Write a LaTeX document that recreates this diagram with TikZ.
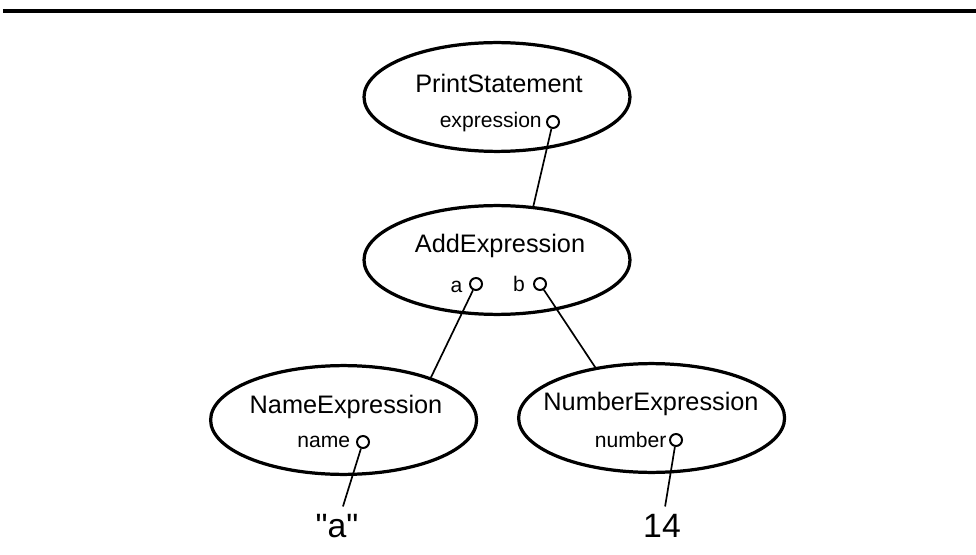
\documentclass[tikz,border=0pt]{standalone}
\usepackage{fontspec}
\setmainfont{Liberation Sans}
\newfontfamily\valfont{Liberation Sans}
\usetikzlibrary{positioning,shapes.geometric}

\begin{document}
\begin{tikzpicture}[
  cls/.style={
    draw,
    ellipse,
    line width=2.3pt,
    inner sep=0pt,
    minimum width=6.65cm,
    minimum height=2.72cm
  },
  title/.style={font=\fontsize{18}{20}\selectfont, inner sep=0pt, anchor=base},
  field/.style={font=\fontsize{15}{17}\selectfont, inner sep=0pt},
  port/.style={draw, circle, line width=1.4pt, inner sep=0pt, minimum size=0.3cm},
  value/.style={font=\valfont\fontsize{24}{26}\selectfont, inner sep=5pt, anchor=base},
  link/.style={line width=1.2pt}
]
\useasboundingbox (0,0) rectangle (24.4,13.85);

% rule along the top
\draw[line width=2.2pt] (0.075,13.575) -- (24.4,13.575);

% one ellipse per tree node
\node[cls] (print) at (12.425, 11.425) {};
\node[cls] (add)   at (12.425, 7.35) {};
\node[cls] (name)  at (8.59, 3.35) {};
\node[cls] (num)   at (16.29, 3.4) {};

\node[title] (printT) at (12.475, 11.525) {PrintStatement};
\node[title] (addT)   at (12.5, 7.525) {AddExpression};
\node[title] (nameT)  at (8.65, 3.525) {NameExpression};
\node[title] (numT)   at (16.275, 3.6) {NumberExpression};

% fields and their ports
\node[port] (printX) at (13.825, 10.8) {};
\node[field, left=0.1cm of printX] (printL) {expression};

\node[port] (addA) at (11.9, 6.75) {};
\node[field, left=0.16cm of addA, yshift=-0.07cm] (addAL) {a};
\node[port] (addB) at (13.5, 6.75) {};
\node[field, left=0.2cm of addB] (addBL) {b};

\node[port] (nameX) at (9.075, 2.8) {};
\node[field, left=0.14cm of nameX] (nameL) {name};

\node[port] (numX) at (16.9, 2.85) {};
\node[field, left=0.06cm of numX] (numL) {number};

% leaf values
\node[value] (aval)  at (8.425, 0.425) {"a"};
\node[value] (nval)  at (16.55, 0.425) {14};

% connections
\draw[link] (printX) -- (add.56);
\draw[link] (addA) -- (name.26);
\draw[link] (addB) -- (num.138);
\draw[link] (nameX) -- (aval);
\draw[link] (numX) -- (nval);

\end{tikzpicture}
\end{document}
